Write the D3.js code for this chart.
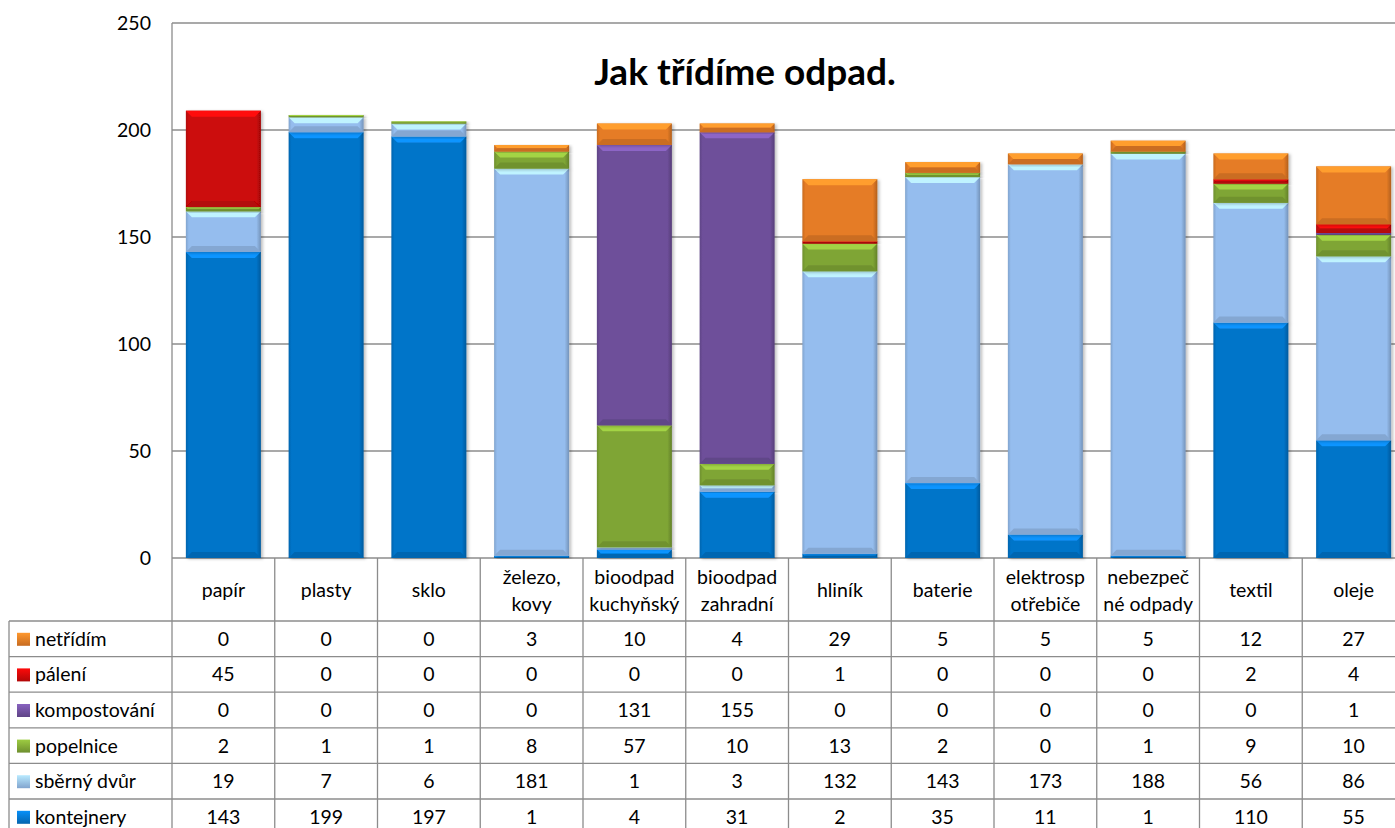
<!DOCTYPE html>
<html>
<head>
<meta charset="utf-8">
<script src="https://cdn.jsdelivr.net/npm/d3@7"></script>
<style>
  body { margin: 0; background: #fff; overflow: hidden; }
  text { font-family: Lato, "Noto Sans", sans-serif; fill: #000; }
</style>
</head>
<body>
<div id="chart"></div>
<script>
// categories and series
var categories = ["papír", "plasty", "sklo", "železo,|kovy", "bioodpad|kuchyňský", "bioodpad|zahradní",
  "hliník", "baterie", "elektrosp|otřebiče", "nebezpeč|né odpady", "textil", "oleje"];
var seriesNames = ["kontejnery", "sběrný dvůr", "popelnice", "kompostování", "pálení", "netřídím"];
var kontejnery = [143, 199, 197, 1, 4, 31, 2, 35, 11, 1, 110, 55];
var sbernyDvur = [19, 7, 6, 181, 1, 3, 132, 143, 173, 188, 56, 86];
var popelnice = [2, 1, 1, 8, 57, 10, 13, 2, 0, 1, 9, 10];
var kompostovani = [0, 0, 0, 0, 131, 155, 0, 0, 0, 0, 0, 1];
var paleni = [45, 0, 0, 0, 0, 0, 1, 0, 0, 0, 2, 4];
var netridim = [0, 0, 0, 3, 10, 4, 29, 5, 5, 5, 12, 27];
var yTicks = [0, 50, 100, 150, 200, 250];

var seriesValues = [kontejnery, sbernyDvur, popelnice, kompostovani, paleni, netridim];
var colors = ["#0674c9", "#95bdee", "#7fa535", "#6e4f9a", "#cc0808", "#e57b25"];

var svgWidth = 1395;
var svgHeight = 828;
var margin = { top: 23, left: 172 };
var plotBottom = 558;
var bandW = 102.75;
var fontSize = "19.5px";

var svg = d3.select("#chart").append("svg")
  .attr("width", svgWidth)
  .attr("height", svgHeight);

var defs = svg.append("defs");
var shadow = defs.append("filter").attr("id", "shadow")
  .attr("x", "-10%").attr("y", "-10%").attr("width", "130%").attr("height", "130%");
shadow.append("feDropShadow").attr("dx", 2).attr("dy", 1).attr("stdDeviation", 1.5)
  .attr("flood-color", "#000").attr("flood-opacity", 0.25);

colors.forEach(function(c, i) {
  var g = defs.append("linearGradient").attr("id", "grad" + i)
    .attr("x1", 0).attr("x2", 1).attr("y1", 0).attr("y2", 0);
  g.append("stop").attr("offset", "0%").attr("stop-color", d3.color(c).darker(0.4));
  g.append("stop").attr("offset", "4%").attr("stop-color", c);
  g.append("stop").attr("offset", "94%").attr("stop-color", c);
  g.append("stop").attr("offset", "100%").attr("stop-color", d3.color(c).darker(0.7));
  var lg = defs.append("linearGradient").attr("id", "leg" + i)
    .attr("x1", 0).attr("x2", 0).attr("y1", 0).attr("y2", 1);
  lg.append("stop").attr("offset", "0%").attr("stop-color", d3.color(c).brighter(0.6));
  lg.append("stop").attr("offset", "100%").attr("stop-color", d3.color(c).darker(0.4));
});

var x = d3.scaleBand()
  .domain(d3.range(categories.length))
  .range([margin.left, margin.left + bandW * categories.length])
  .paddingInner(0.27)
  .paddingOuter(0.135);

var y = d3.scaleLinear()
  .domain([0, 250])
  .range([plotBottom, margin.top]);

// gridlines
svg.append("g").selectAll("line")
  .data(yTicks)
  .enter().append("line")
  .attr("x1", margin.left).attr("x2", svgWidth)
  .attr("y1", d => y(d)).attr("y2", d => y(d))
  .attr("stroke", "#8c8c8c").attr("stroke-width", 1.3);

svg.append("line")
  .attr("x1", margin.left).attr("x2", margin.left)
  .attr("y1", margin.top).attr("y2", plotBottom)
  .attr("stroke", "#8c8c8c").attr("stroke-width", 1.3);

// y axis labels
var leftAxis = d3.axisLeft(y).tickValues(yTicks).tickSize(0).tickPadding(21);
var yAxis = svg.append("g")
  .attr("transform", `translate(${margin.left}, 0)`)
  .call(leftAxis);
yAxis.select(".domain").remove();
yAxis.selectAll("text").style("font-size", fontSize).style("font-family", "Lato, 'Noto Sans', sans-serif");

// stacked bars
var stackData = categories.map(function(c, i) {
  var row = { i: i };
  seriesNames.forEach(function(s, k) { row[s] = seriesValues[k][i]; });
  return row;
});
var stacked = d3.stack().keys(seriesNames)(stackData);

stacked.forEach(function(layer, k) {
  var g = svg.append("g");
  layer.forEach(function(d, i) {
    var v = d[1] - d[0];
    if (v <= 0) return;
    var x0 = x(i), w = x.bandwidth();
    var yTop = y(d[1]), h = y(d[0]) - y(d[1]);
    var seg = g.append("g").attr("filter", "url(#shadow)");
    seg.append("rect")
      .attr("x", x0).attr("y", yTop).attr("width", w).attr("height", h)
      .attr("fill", "url(#grad" + k + ")");
    var b = Math.min(6, h / 2);
    // top bevel highlight
    seg.append("path")
      .attr("d", `M${x0},${yTop}L${x0 + w},${yTop}L${x0 + w - b},${yTop + b}L${x0 + b},${yTop + b}Z`)
      .attr("fill", d3.color(colors[k]).brighter(0.7));
    // bottom bevel shade
    seg.append("path")
      .attr("d", `M${x0},${yTop + h}L${x0 + w},${yTop + h}L${x0 + w - b},${yTop + h - b}L${x0 + b},${yTop + h - b}Z`)
      .attr("fill", d3.color(colors[k]).darker(0.35));
  });
});

// data table
var headerBottom = 621;
var rowH = 35.6;
var tableLeft = 9;
var tableRight = margin.left + bandW * categories.length;
var table = svg.append("g");
var lineColor = "#8c8c8c";

// vertical lines of category columns
d3.range(categories.length + 1).forEach(function(i) {
  var xx = margin.left + bandW * i;
  table.append("line")
    .attr("x1", xx).attr("x2", xx).attr("y1", plotBottom).attr("y2", svgHeight)
    .attr("stroke", lineColor).attr("stroke-width", 1.3);
});
table.append("line")
  .attr("x1", tableLeft).attr("x2", tableLeft).attr("y1", headerBottom).attr("y2", svgHeight)
  .attr("stroke", lineColor).attr("stroke-width", 1.3);
d3.range(seriesNames.length + 1).forEach(function(r) {
  var yy = headerBottom + rowH * r;
  table.append("line")
    .attr("x1", tableLeft).attr("x2", tableRight).attr("y1", yy).attr("y2", yy)
    .attr("stroke", lineColor).attr("stroke-width", 1.3);
});

// category header labels
categories.forEach(function(c, i) {
  var parts = c.split("|");
  var cx = margin.left + bandW * (i + 0.5);
  var t = table.append("text")
    .attr("x", cx).attr("text-anchor", "middle")
    .style("font-size", fontSize);
  parts.forEach(function(p, j) {
    t.append("tspan").attr("x", cx)
      .attr("y", 597 + (j - (parts.length - 1) / 2) * 27)
      .text(p);
  });
});

// series rows (top = last series)
var rowOrder = seriesNames.map((s, k) => k).reverse();
rowOrder.forEach(function(k, r) {
  var rc = headerBottom + rowH * (r + 0.5);
  table.append("rect")
    .attr("x", 17).attr("y", rc - 6).attr("width", 13).attr("height", 13)
    .attr("fill", "url(#leg" + k + ")");
  table.append("text")
    .attr("x", 35).attr("y", rc + 7)
    .style("font-size", fontSize)
    .text(seriesNames[k]);
  seriesValues[k].forEach(function(v, i) {
    table.append("text")
      .attr("x", margin.left + bandW * (i + 0.5)).attr("y", rc + 7)
      .attr("text-anchor", "middle")
      .style("font-size", fontSize)
      .text(v);
  });
});

// title
svg.append("text")
  .attr("x", 745).attr("y", 85)
  .attr("text-anchor", "middle")
  .style("font-size", "37px").style("font-weight", "bold")
  .text("Jak třídíme odpad.");
</script>
</body>
</html>
